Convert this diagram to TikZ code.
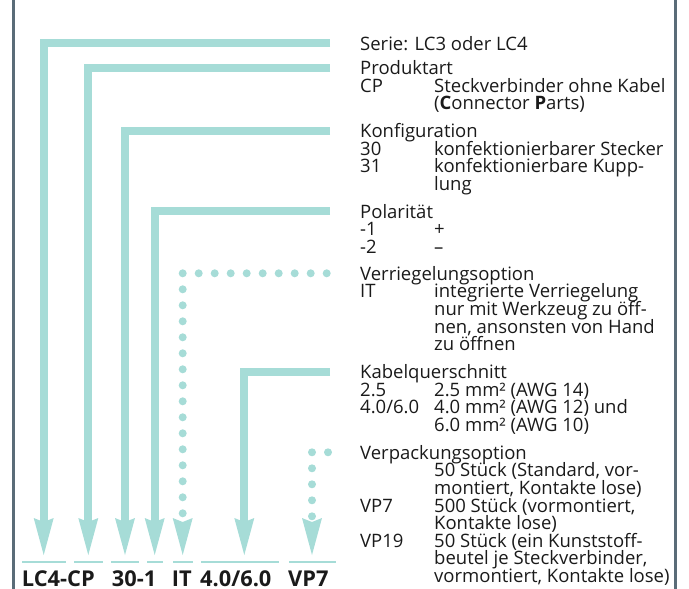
\documentclass[tikz,border=0pt]{standalone}
\usepackage{fontspec}
\setmainfont{Open Sans}
\usepackage{tikz}
\usetikzlibrary{arrows.meta, positioning}
\definecolor{KeyTeal}{HTML}{A6DCD7}
\definecolor{KeyFrame}{HTML}{5A6C78}
\definecolor{KeyInk}{HTML}{1A1A1A}

% rows of one description, first baseline on the node's base
\newcommand{\keyrows}[1]{\vtop{\baselineskip=17.6pt\lineskiplimit=-\maxdimen\lineskip=0pt
  \halign{##\hfil\cr#1\crcr}}}

\tikzset{
  txt/.style={anchor=base west, inner sep=0pt, text=KeyInk,
    font=\fontsize{18.5}{17.6}\selectfont},
  partno/.style={anchor=base west, inner sep=0pt, text=KeyInk, text depth=0pt,
    font=\fontsize{21.8}{24}\selectfont\bfseries},
  segbar/.style={rectangle, fill=KeyTeal, inner sep=0pt, minimum height=2.6pt},
  conn/.style={draw=KeyTeal, line width=8pt,
    -{Stealth[length=37pt, width=20pt, inset=4pt, line width=0pt]},
    shorten >=5.5pt},
  dotconn/.style={conn, dash pattern=on 0pt off 16pt, line cap=round},
  frame/.style={draw=KeyFrame, line width=2.7pt}
}

\begin{document}
\begin{tikzpicture}[x=1pt, y=-1pt]
\useasboundingbox (0,0) rectangle (689,589);

% frame
\draw[frame] (13.3,0) -- (13.3,589);
\draw[frame] (675.5,0) -- (675.5,589);

% legend on the right
\node[txt] (hSerie) at (360,50.3) {Serie: LC3 oder LC4};

\node[txt] (hProd) at (360,74.5) {Produktart};
\node[txt] (cCP) at (360,92.1) {CP};
\node[txt] (dCP) at (434,92.1) {\keyrows{Steckverbinder ohne Kabel\cr
  (\textbf{C}onnector \textbf{P}arts)}};

\node[txt] (hKonf) at (360,137.5) {Konfiguration};
\node[txt] (c30) at (360,155.1) {30};
\node[txt] (d30) at (434,155.1) {konfektionierbarer Stecker};
\node[txt] (c31) at (360,172.7) {31};
\node[txt] (d31) at (434,172.7) {\keyrows{konfektionierbare Kupp-\cr lung}};

\node[txt] (hPol) at (360,218) {Polarität};
\node[txt] (cP1) at (360,235.6) {-1};
\node[txt] (dP1) at (434,235.6) {+};
\node[txt] (cP2) at (360,253.2) {-2};
\node[txt] (dP2) at (434,253.2) {–};

\node[txt] (hVerr) at (360,280.3) {Verriegelungsoption};
\node[txt] (cIT) at (360,297.9) {IT};
\node[txt] (dIT) at (434,297.9) {\keyrows{integrierte Verriegelung\cr
  nur mit Werkzeug zu öff-\cr nen, ansonsten von Hand\cr zu öffnen}};

\node[txt] (hKab) at (360,378.5) {Kabelquerschnitt};
\node[txt] (c25) at (360,396.1) {2.5};
\node[txt] (d25) at (434,396.1) {2.5 mm² (AWG 14)};
\node[txt] (c46) at (360,413.7) {4.0/6.0};
\node[txt] (d46) at (434,413.7) {\keyrows{4.0 mm² (AWG 12) und\cr 6.0 mm² (AWG 10)}};

\node[txt] (hVerp) at (360,459.3) {Verpackungsoption};
\node[txt] (dStd) at (434,476.9) {\keyrows{50 Stück (Standard, vor-\cr
  montiert, Kontakte lose)}};
\node[txt] (cVP7) at (360,512.1) {VP7};
\node[txt] (dVP7) at (434,512.1) {\keyrows{500 Stück (vormontiert,\cr Kontakte lose)}};
\node[txt] (cVP19) at (360,547.3) {VP19};
\node[txt] (dVP19) at (434,547.3) {\keyrows{50 Stück (ein Kunststoff-\cr
  beutel je Steckverbinder,\cr vormontiert, Kontakte lose)}};

% part number at the bottom
\node[partno] (pLC) at (21.7,586.5) {LC4-CP};
\node[partno] (p30) at (111.7,586.5) {30-1};
\node[partno] (pIT) at (171.7,586.5) {IT};
\node[partno] (pAWG) at (200,586.5) {4.0/6.0};
\node[partno] (pVP) at (288,586.5) {VP7};

% bars under the segments
\node[segbar, minimum width=44pt] (bLC) at (43.7,562) {};
\node[segbar, minimum width=28.7pt] (bCP) at (88.3,562) {};
\node[segbar, minimum width=28pt] (b30) at (125,562) {};
\node[segbar, minimum width=16pt] (b1) at (154.7,562) {};
\node[segbar, minimum width=20pt] (bIT) at (182.7,562) {};
\node[segbar, minimum width=77.7pt] (bAWG) at (239.8,562) {};
\node[segbar, minimum width=47pt] (bVP) at (312,562) {};

% connectors
\coordinate (kSerie) at (330,43.3);
\coordinate (kProd) at (330,67.5);
\coordinate (kKonf) at (330,130.5);
\coordinate (kPol) at (330,211);
\coordinate (kVerr) at (326.7,273.3);
\coordinate (kKab) at (330,371.5);
\coordinate (kVerp) at (328,452.3);

\draw[conn] (kSerie) -| (bLC);
\draw[conn] (kProd) -| (bCP);
\draw[conn] (kKonf) -| (b30);
\draw[conn] (kPol) -| (b1);
\draw[dotconn] (kVerr) -| (bIT);
\draw[conn] (kKab) -| ([xshift=4.5pt]bAWG.north);
\draw[dotconn] (kVerp) -| (bVP);
\end{tikzpicture}
\end{document}
